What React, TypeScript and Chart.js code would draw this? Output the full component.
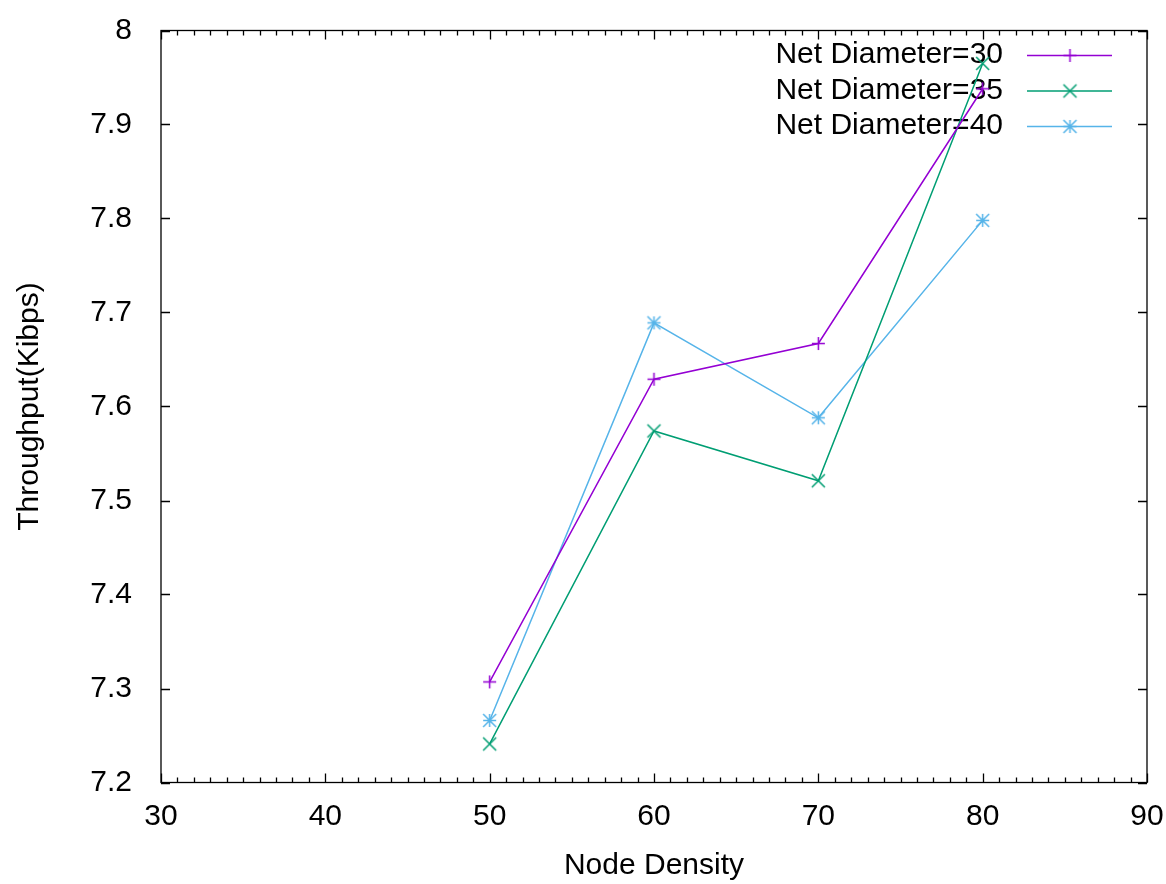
import React, { useEffect, useRef } from 'react';
import { Chart, registerables } from 'chart.js';

Chart.register(...registerables);

const xValues = [50, 60, 70, 80];
const netDiameter30 = [7.307, 7.629, 7.667, 7.938];
const netDiameter35 = [7.241, 7.574, 7.521, 7.965];
const netDiameter40 = [7.266, 7.689, 7.588, 7.798];
const seriesLabels = ['Net Diameter=30', 'Net Diameter=35', 'Net Diameter=40'];
const seriesColors = ['#9400d3', '#009e73', '#56b4e9'];
const seriesMarkers = ['plus', 'cross', 'star'];
const X_MIN = 30;
const X_MAX = 90;
const X_STEP = 10;
const X_MINOR = 1;
const Y_MIN = 7.2;
const Y_MAX = 8;
const Y_STEP = 0.1;
const xTitle = 'Node Density';
const yTitle = 'Throughput(Kibps)';

const FONT_FAMILY = '"Liberation Sans", Arial, sans-serif';
const FONT_SIZE = 30;

function makeMarker(kind: string, color: string): HTMLCanvasElement {
  const c = document.createElement('canvas');
  c.width = 17;
  c.height = 17;
  const g = c.getContext('2d')!;
  g.strokeStyle = color;
  g.lineWidth = 1.5;
  g.beginPath();
  if (kind === 'plus' || kind === 'star') {
    g.moveTo(2, 8.5); g.lineTo(15, 8.5);
    g.moveTo(8.5, 2); g.lineTo(8.5, 15);
  }
  if (kind === 'cross' || kind === 'star') {
    g.moveTo(2, 2); g.lineTo(15, 15);
    g.moveTo(15, 2); g.lineTo(2, 15);
  }
  g.stroke();
  return c;
}

function zeroPad(s: any) {
  s.paddingLeft = 0;
  s.paddingRight = 0;
  s.paddingTop = 0;
  s.paddingBottom = 0;
}

export default function App() {
  const ref = useRef<HTMLCanvasElement>(null);

  useEffect(() => {
    const markers = seriesMarkers.map((m, i) => makeMarker(m, seriesColors[i]));
    const seriesData = [netDiameter30, netDiameter35, netDiameter40];

    const framePlugin = {
      id: 'gnuFrame',
      beforeDatasetsDraw(chart: any) {
        const { ctx, chartArea: a, scales } = chart;
        const xs = scales.x;
        const ys = scales.y;
        ctx.save();
        ctx.strokeStyle = '#000';
        ctx.lineWidth = 1.3;
        ctx.strokeRect(a.left, a.top, a.right - a.left, a.bottom - a.top);
        ctx.beginPath();
        for (let v = X_MIN; v <= X_MAX + 1e-9; v += X_MINOR) {
          const px = Math.round(xs.getPixelForValue(v)) + 0.5;
          const isMajor = Math.abs((v - X_MIN) % X_STEP) < 1e-9;
          const len = isMajor ? 9 : 5;
          ctx.moveTo(px, a.bottom);
          ctx.lineTo(px, a.bottom - len);
          ctx.moveTo(px, a.top);
          ctx.lineTo(px, a.top + len);
        }
        const nY = Math.round((Y_MAX - Y_MIN) / Y_STEP);
        for (let i = 0; i <= nY; i++) {
          const v = Y_MIN + i * Y_STEP;
          const py = Math.round(ys.getPixelForValue(v)) + 0.5;
          ctx.moveTo(a.left, py);
          ctx.lineTo(a.left + 9, py);
          ctx.moveTo(a.right, py);
          ctx.lineTo(a.right - 9, py);
        }
        ctx.stroke();

        // legend (drawn before data, as gnuplot does)
        ctx.font = `${FONT_SIZE}px ${FONT_FAMILY}`;
        ctx.textAlign = 'right';
        ctx.textBaseline = 'middle';
        ctx.fillStyle = '#000';
        const rowY = [55.5, 91, 126.5];
        seriesLabels.forEach((lab, i) => {
          const yy = rowY[i];
          ctx.fillText(lab, 1003, yy - 0.5);
          ctx.strokeStyle = seriesColors[i];
          ctx.lineWidth = 1.5;
          ctx.beginPath();
          ctx.moveTo(1027, yy);
          ctx.lineTo(1112, yy);
          ctx.stroke();
          ctx.drawImage(markers[i], 1070 - 8.5, yy - 8.5);
        });
        ctx.restore();
      },
    };

    const font = { family: FONT_FAMILY, size: FONT_SIZE, lineHeight: 1 };

    const chart = new Chart(ref.current!, {
      type: 'line',
      data: {
        datasets: seriesLabels.map((label, i) => ({
          label,
          data: xValues.map((x, j) => ({ x, y: seriesData[i][j] })),
          borderColor: seriesColors[i],
          backgroundColor: seriesColors[i],
          borderWidth: 1.5,
          pointStyle: markers[i] as any,
          pointRadius: 7,
          pointHoverRadius: 7,
          tension: 0,
          fill: false,
        })),
      },
      options: {
        animation: false,
        responsive: false,
        events: [],
        layout: { padding: { left: 0, right: 19, top: 30.5, bottom: 0 } },
        plugins: {
          legend: { display: false },
          tooltip: { enabled: false },
        },
        scales: {
          x: {
            type: 'linear',
            min: X_MIN,
            max: X_MAX,
            grid: { display: false, drawTicks: false, tickLength: 0 },
            border: { display: false },
            ticks: {
              stepSize: X_STEP,
              autoSkip: false,
              maxRotation: 0,
              font,
              color: '#000',
              padding: 19,
            },
            title: {
              display: true,
              text: xTitle,
              font,
              color: '#000',
              padding: { top: 0, bottom: 3 },
            },
            afterFit: (s: any) => {
              s.height = 101.5;
              zeroPad(s);
            },
          },
          y: {
            type: 'linear',
            min: Y_MIN,
            max: Y_MAX,
            grid: { display: false, drawTicks: false, tickLength: 0 },
            border: { display: false },
            ticks: {
              stepSize: Y_STEP,
              autoSkip: false,
              font,
              color: '#000',
              padding: 29,
              callback: (v: any) => String(parseFloat(Number(v).toFixed(1))),
            },
            title: {
              display: true,
              text: yTitle,
              font,
              color: '#000',
              padding: { top: 15, bottom: 0 },
            },
            afterFit: (s: any) => {
              s.width = 161;
              zeroPad(s);
            },
          },
        },
      },
      plugins: [framePlugin],
    });
    return () => chart.destroy();
  }, []);

  return (
    <div style={{ position: 'fixed', left: 0, top: 0, width: 1166, height: 884, background: '#fff' }}>
      <canvas ref={ref} width={1166} height={884} style={{ width: 1166, height: 884, display: 'block' }} />
    </div>
  );
}
